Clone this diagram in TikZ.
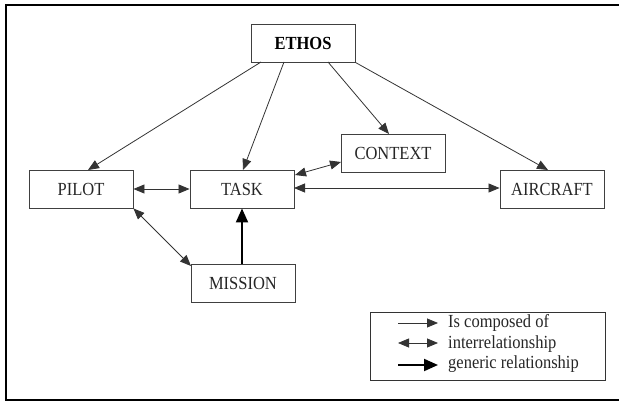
\documentclass[tikz,border=0pt]{standalone}
\usepackage{fontspec}
\setmainfont{Liberation Serif}
\usetikzlibrary{arrows.meta}
\newcommand{\tallt}[1]{\scalebox{1}[1.12]{#1}}
\begin{document}
\begin{tikzpicture}[x=1pt,y=-1pt,
  box/.style={draw=black!75,line width=0.9pt,minimum width=104pt,minimum height=38pt,
    inner sep=0pt,font=\fontsize{16.5}{18}\selectfont,text=black!85},
  comp/.style={draw=black!80,line width=0.8pt,-{Triangle[length=11pt,width=9pt]}},
  inter/.style={draw=black!80,line width=0.8pt,{Triangle[length=11pt,width=9pt]}-{Triangle[length=11pt,width=9pt]}},
  generic/.style={draw=black,line width=2pt,-{Triangle[length=14pt,width=12pt]}},
  legtext/.style={anchor=west,inner sep=0pt,font=\fontsize{16.5}{18}\selectfont,text=black!85}]
\useasboundingbox (0,0) rectangle (619,401);
\draw[line width=2pt] (619,5) -- (6,5) -- (6,401);
\draw[line width=2pt] (6,400) -- (619,400);
% nodes
\node[box,font=\fontsize{16.5}{18}\selectfont\bfseries,text=black] (ethos) at (303,43) {\tallt{ETHOS}};
\node[box] (pilot) at (81,189) {\tallt{PILOT}};
\node[box] (task) at (242,189) {\tallt{TASK}};
\node[box] (context) at (393,153) {\tallt{CONTEXT}};
\node[box] (aircraft) at (552,189) {\tallt{AIRCRAFT}};
\node[box] (mission) at (243,283) {\tallt{MISSION}};
% connectors
\draw[comp] (261,62) -- (88,170);
\draw[comp] (284,62) -- (243,170);
\draw[comp] (328,62) -- (389,134);
\draw[comp] (ethos.south east) -- (548,170);
\draw[inter] (pilot.east) -- (task.west);
\draw[inter] (295,175) -- (341,162);
\draw[inter] (294,188) -- (aircraft.west |- 0,188);
\draw[inter] (pilot.south east) -- (191,266);
\draw[generic] (mission.north -| task.south) -- (task.south);
% legend
\node[draw=black!80,line width=0.9pt,minimum width=235pt,minimum height=68pt,inner sep=0pt] (legend) at (488,346) {};
\coordinate (l1a) at (398,323); \coordinate (l1b) at (438,323);
\coordinate (l2a) at (398,343); \coordinate (l2b) at (438,343);
\coordinate (l3a) at (398,365); \coordinate (l3b) at (438,365);
\draw[comp] (l1a) -- (l1b);
\draw[inter] (l2a) -- (l2b);
\draw[generic] (l3a) -- (l3b);
\node[legtext] (t1) at (448,323) {\tallt{Is composed of}};
\node[legtext] (t2) at (448,344) {\tallt{interrelationship}};
\node[legtext] (t3) at (448,364) {\tallt{generic relationship}};
\end{tikzpicture}
\end{document}
